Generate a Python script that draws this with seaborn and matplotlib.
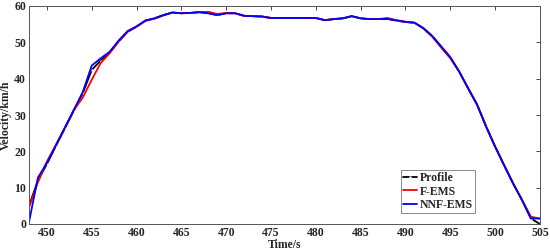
import numpy as np
import pandas as pd
import seaborn as sns
import matplotlib.pyplot as plt

# time axis, 1 s steps
time = list(range(448, 506))

profile = [5.0, 12.0, 16.5, 21.5, 26.3, 31.2, 36.0, 42.4, 45.0, 47.2,
           50.2, 52.9, 54.3, 56.0, 56.6, 57.5, 58.2, 58.0, 58.1, 58.3,
           58.0, 57.5, 58.0, 58.0, 57.3, 57.2, 57.1, 56.7, 56.7, 56.7,
           56.7, 56.7, 56.7, 56.1, 56.4, 56.6, 57.2, 56.6, 56.4, 56.4,
           56.4, 56.0, 55.6, 55.4, 53.9, 51.7, 48.8, 45.9, 41.9, 37.3,
           32.8, 26.8, 21.3, 16.2, 11.2, 6.6, 1.5, 0.0]

f_ems = [4.5, 11.5, 17.2, 21.8, 26.5, 31.3, 34.8, 39.7, 44.3, 47.0,
         50.2, 52.9, 54.3, 55.9, 56.5, 57.4, 58.2, 58.0, 58.1, 58.3,
         58.4, 57.8, 58.1, 58.0, 57.3, 57.2, 57.1, 56.7, 56.7, 56.7,
         56.7, 56.7, 56.7, 56.1, 56.4, 56.6, 57.2, 56.6, 56.4, 56.4,
         56.7, 56.1, 55.7, 55.4, 53.8, 51.5, 48.5, 45.6, 41.9, 37.3,
         32.8, 26.8, 21.3, 16.2, 11.2, 6.6, 2.0, 1.5]

nnf_ems = [0.5, 12.8, 16.8, 21.6, 26.5, 31.4, 36.3, 43.6, 45.6, 47.4,
           50.5, 53.1, 54.4, 56.0, 56.6, 57.5, 58.2, 58.0, 58.1, 58.3,
           58.0, 57.5, 58.0, 58.0, 57.3, 57.2, 57.1, 56.7, 56.7, 56.7,
           56.7, 56.7, 56.7, 56.1, 56.4, 56.6, 57.2, 56.6, 56.4, 56.4,
           56.5, 56.0, 55.6, 55.4, 53.9, 51.7, 48.8, 45.9, 41.9, 37.3,
           32.8, 26.8, 21.3, 16.2, 11.2, 6.6, 1.5, 1.5]

df = pd.DataFrame({"time": time, "Profile": profile, "F-EMS": f_ems, "NNF-EMS": nnf_ems})

sns.set_style("white")
plt.rcParams['font.family'] = ['Liberation Serif', 'DejaVu Serif']
plt.rcParams['font.weight'] = 'bold'

fig = plt.figure(figsize=(5.5, 2.5), dpi=100)
ax = fig.add_axes([0.0527, 0.104, 0.929, 0.872])

sns.lineplot(data=df, x="time", y="Profile", color="black", lw=1.3,
             marker=".", markersize=2, label="Profile", ax=ax)
sns.lineplot(data=df, x="time", y="F-EMS", color="red", lw=1.3, label="F-EMS", ax=ax)
sns.lineplot(data=df, x="time", y="NNF-EMS", color="blue", lw=1.3, label="NNF-EMS", ax=ax)

ax.set_xlim(448, 505)
ax.set_ylim(0, 60)
ax.set_xticks(range(450, 506, 5))
ax.set_yticks(range(0, 61, 10))
ax.tick_params(direction="in", length=3, width=0.6, top=True, right=True,
               labelsize=8.5, pad=2)
for lab in ax.get_xticklabels() + ax.get_yticklabels():
    lab.set_fontweight("bold")
for s in ax.spines.values():
    s.set_color("#555555")
    s.set_linewidth(0.7)

ax.set_xlabel("Time/s", fontsize=8.5, fontweight="bold", labelpad=0)
ax.set_ylabel("Velocity/km/h", fontsize=8.5, fontweight="bold", labelpad=2)

leg = ax.legend(loc="lower right", bbox_to_anchor=(0.873, 0.05), fontsize=8.5,
                frameon=True, fancybox=False, handlelength=1.2, handletextpad=0.2,
                borderpad=0.2, labelspacing=0.1, borderaxespad=0)
leg.get_frame().set_edgecolor("#555555")
leg.get_frame().set_linewidth(0.6)
for t in leg.get_texts():
    t.set_fontweight("bold")

fig.savefig("out.png", dpi=100)
